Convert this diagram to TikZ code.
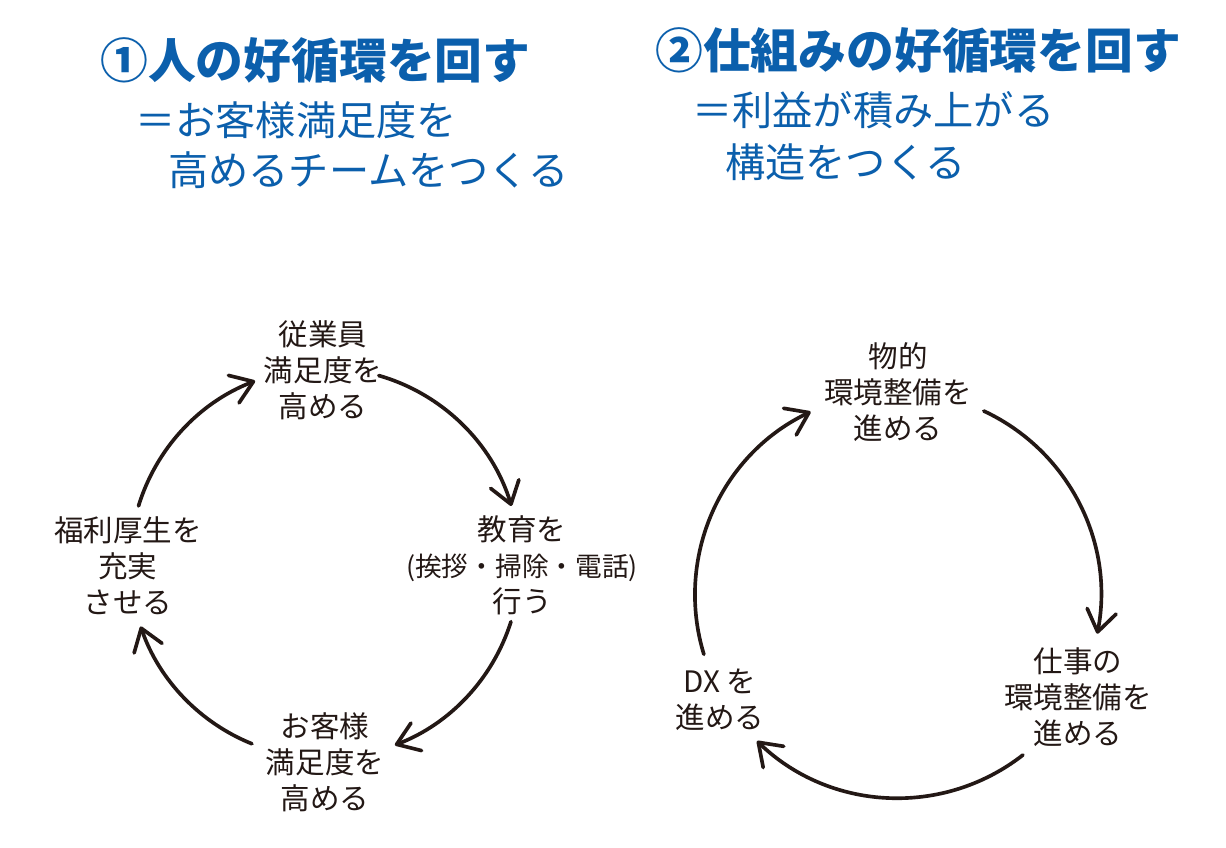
\documentclass[tikz,border=0pt]{standalone}
\usepackage{fontspec}
\setmainfont{Noto Sans CJK JP}
\usetikzlibrary{arrows.meta}
\usetikzlibrary{calc}
\definecolor{titleblue}{RGB}{11,95,172}
\definecolor{ink}{RGB}{35,24,21}
\tikzset{
  ttl/.style={anchor=west,inner sep=0pt,text=titleblue,font=\fontsize{34pt}{34pt}\selectfont\bfseries},
  sub/.style={anchor=west,inner sep=0pt,text=titleblue,font=\fontsize{28.6pt}{28.6pt}\selectfont},
  lbl/.style={align=center,inner sep=0pt,text=ink,font=\fontsize{21pt}{25.5pt}\selectfont},
  cyc/.style={draw=ink,line width=2.6pt,-{Straight Barb[length=15pt,width=21pt,round]}}
}
\begin{document}
\begin{tikzpicture}[line cap=round,line join=round,x=0.025cm,y=0.025cm]
\clip(0,0) rectangle (1226,848);
% titles
\node[ttl] (ttlA) at (100,788) {①人の好循環を回す};
\node[sub] (subAa) at (135,728) {＝お客様満足度を};
\node[sub] (subAb) at (168,678) {高めるチームをつくる};
\node[ttl] (ttlB) at (655,798) {②仕組みの好循環を回す};
\node[sub] (subBa) at (692,738) {＝利益が積み上がる};
\node[sub] (subBb) at (725,686) {構造をつくる};
% left cycle
\coordinate (cA) at (325,285);
\node[lbl] (emp) at (323,478) {従業員\\満足度を\\高める};
\node[lbl] (edu) at (522,283) {教育を\\{\fontsize{19pt}{25.5pt}\selectfont (挨拶・掃除・電話)}\\行う};
\node[lbl] (cus) at (325,86) {お客様\\満足度を\\高める};
\node[lbl] (wel) at (128,282) {福利厚生を\\充実\\させる};
\coordinate (emp-out) at ($(cA)+(74:195)$);
\coordinate (edu-out) at ($(cA)+(-17.5:195)$);
\coordinate (cus-out) at ($(cA)+(-112:195)$);
\coordinate (wel-out) at ($(cA)+(163:195)$);
\draw[cyc] (emp-out) arc[start angle=74,end angle=17,radius=195];
\draw[cyc] (edu-out) arc[start angle=-17.5,end angle=-69,radius=195];
\draw[cyc] (cus-out) arc[start angle=-112,end angle=-161,radius=195];
\draw[cyc] (wel-out) arc[start angle=163,end angle=111,radius=195];
% right cycle
\coordinate (cB) at (898,253);
\node[lbl] (phy) at (898,456) {物的\\環境整備を\\進める};
\node[lbl] (wrk) at (1078,151) {仕事の\\環境整備を\\進める};
\node[lbl] (dx) at (720,148) {DX を\\進める};
\coordinate (phy-out) at ($(cB)+(65:203)$);
\coordinate (wrk-out) at ($(cB)+(-52:203)$);
\coordinate (dx-out) at ($(cB)+(197:203)$);
\draw[cyc] (phy-out) arc[start angle=65,end angle=-11,radius=203];
\draw[cyc] (wrk-out) arc[start angle=-52,end angle=-134,radius=203];
\draw[cyc] (dx-out) arc[start angle=197,end angle=115.5,radius=203];
\end{tikzpicture}
\end{document}
